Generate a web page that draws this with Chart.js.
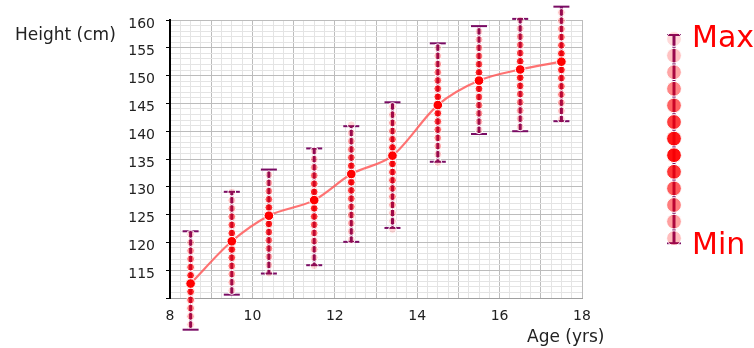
<!DOCTYPE html>
<html lang="en">
<head>
    <meta charset="UTF-8">
    <title>Height by Age</title>
    <script src="https://cdn.jsdelivr.net/npm/chart.js"></script>
    <style>
        html, body { margin: 0; padding: 0; background: #fff; }
        #wrap { width: 754px; height: 348px; }
    </style>
</head>
<body>
    <div id="wrap"><canvas id="heightChart" width="754" height="348"></canvas></div>

    <script>
        // Data
        const ages = [8.5, 9.5, 10.4, 11.5, 12.4, 13.4, 14.5, 15.5, 16.5, 17.5];
        const meanHeight = [112.6, 120.2, 124.8, 127.6, 132.3, 135.6, 144.7, 149.1, 151.1, 152.5];
        const maxHeight = [122.0, 129.1, 133.1, 136.9, 140.9, 145.2, 155.8, 158.9, 160.2, 162.4];
        const minHeight = [104.3, 110.6, 114.4, 115.9, 120.1, 122.6, 134.5, 139.5, 140.0, 141.8];

        const xLabels = [8, 10, 12, 14, 16, 18];
        const yLabels = [115, 120, 125, 130, 135, 140, 145, 150, 155, 160];

        const PURPLE = '#7a0c64';
        const FONT = "'DejaVu Sans', Verdana, sans-serif";

        // fade the dots from the mean towards the whisker ends
        function dotAlpha(t) {
            t = Math.min(1, Math.max(0, t));
            return 0.15 + 0.85 * Math.pow(1 - t, 1.2);
        }

        function drawDot(ctx, x, y, r, a) {
            ctx.beginPath();
            ctx.arc(x, y, r, 0, Math.PI * 2);
            ctx.fillStyle = 'rgba(255,0,0,' + a.toFixed(3) + ')';
            ctx.fill();
            ctx.lineWidth = 1;
            ctx.strokeStyle = '#fff';
            ctx.stroke();
        }

        function drawWhisker(ctx, x, yTop, yBot, capHalf) {
            ctx.strokeStyle = PURPLE;
            ctx.lineWidth = 3;
            ctx.beginPath();
            ctx.moveTo(x, yTop);
            ctx.lineTo(x, yBot);
            ctx.stroke();
            ctx.lineWidth = 2;
            [yTop, yBot].forEach(y => {
                ctx.beginPath();
                ctx.moveTo(x - capHalf, y);
                ctx.lineTo(x + capHalf, y);
                ctx.stroke();
            });
        }

        const rangeDots = {
            id: 'rangeDots',
            afterDatasetsDraw(chart) {
                const ctx = chart.ctx;
                const xs = chart.scales.x;
                const ys = chart.scales.y;
                const step = 8.2;
                ctx.save();
                ages.forEach((age, i) => {
                    const x = xs.getPixelForValue(age);
                    const yMean = ys.getPixelForValue(meanHeight[i]);
                    const yTop = ys.getPixelForValue(maxHeight[i]);
                    const yBot = ys.getPixelForValue(minHeight[i]);
                    drawWhisker(ctx, x, yTop, yBot, 8);
                    for (let y = yMean - step; y >= yTop - 2; y -= step) {
                        drawDot(ctx, x, y, 3.9, dotAlpha((yMean - y) / (yMean - yTop)));
                    }
                    for (let y = yMean + step; y <= yBot + 2; y += step) {
                        drawDot(ctx, x, y, 3.9, dotAlpha((y - yMean) / (yBot - yMean)));
                    }
                    drawDot(ctx, x, yMean, 4.8, 1);
                });

                // key on the right: Max / Min
                const kx = 674, kTop = 39, kGap = 16.6, kCount = 13;
                drawWhisker(ctx, kx, kTop - 4, kTop + kGap * (kCount - 1) + 5, 7);
                const kMid = 6.6;
                for (let k = 0; k < kCount; k++) {
                    drawDot(ctx, kx, kTop + k * kGap, 7.4, dotAlpha(Math.abs(k - kMid) / kMid));
                }
                ctx.restore();
            },
            afterDraw(chart) {
                const ctx = chart.ctx;
                ctx.save();
                ctx.textBaseline = 'alphabetic';
                ctx.textAlign = 'left';
                ctx.fillStyle = '#222';
                ctx.font = '17px ' + FONT;
                ctx.fillText('Height (cm)', 15, 40);
                ctx.fillText('Age (yrs)', 527, 342);
                ctx.fillStyle = '#ff0000';
                ctx.font = '30px ' + FONT;
                ctx.fillText('Max', 692, 47);
                ctx.fillText('Min', 692, 254);
                ctx.restore();
            }
        };

        const ctx = document.getElementById('heightChart').getContext('2d');

        new Chart(ctx, {
            type: 'line',
            data: {
                datasets: [{
                    label: 'Mean height',
                    data: ages.map((a, i) => ({ x: a, y: meanHeight[i] })),
                    borderColor: 'rgba(255,90,90,0.85)',
                    borderWidth: 2.2,
                    pointRadius: 0,
                    cubicInterpolationMode: 'monotone',
                    fill: false
                }]
            },
            options: {
                responsive: false,
                animation: false,
                layout: { padding: { left: 0, top: 20, right: 172, bottom: 0 } },
                plugins: {
                    legend: { display: false },
                    tooltip: { enabled: false }
                },
                scales: {
                    x: {
                        type: 'linear',
                        min: 8,
                        max: 18,
                        afterFit(scale) { scale.height = 50; },
                        ticks: {
                            stepSize: 0.25,
                            autoSkip: false,
                            maxRotation: 0,
                            minRotation: 0,
                            padding: 10,
                            color: '#222',
                            font: { family: FONT, size: 14 },
                            callback: v => xLabels.includes(v) ? String(v) : ''
                        },
                        grid: {
                            drawTicks: false,
                            color: c => Number.isInteger(c.tick.value) ? '#bcbcbc' : '#e4e4e4'
                        },
                        border: { color: '#a0a0a0', width: 1 }
                    },
                    y: {
                        min: 110,
                        max: 160,
                        afterFit(scale) { scale.width = 170; },
                        ticks: {
                            stepSize: 1,
                            autoSkip: false,
                            padding: 11,
                            labelOffset: 4,
                            color: '#222',
                            font: { family: FONT, size: 14 },
                            callback: v => yLabels.includes(v) ? String(v) : ''
                        },
                        grid: {
                            tickLength: 4,
                            color: c => c.tick.value % 5 === 0 ? '#bcbcbc' : '#e4e4e4',
                            tickColor: c => c.tick.value % 5 === 0 ? '#000' : 'rgba(0,0,0,0)'
                        },
                        border: { color: '#000', width: 2 }
                    }
                }
            },
            plugins: [rangeDots]
        });
    </script>
</body>
</html>
